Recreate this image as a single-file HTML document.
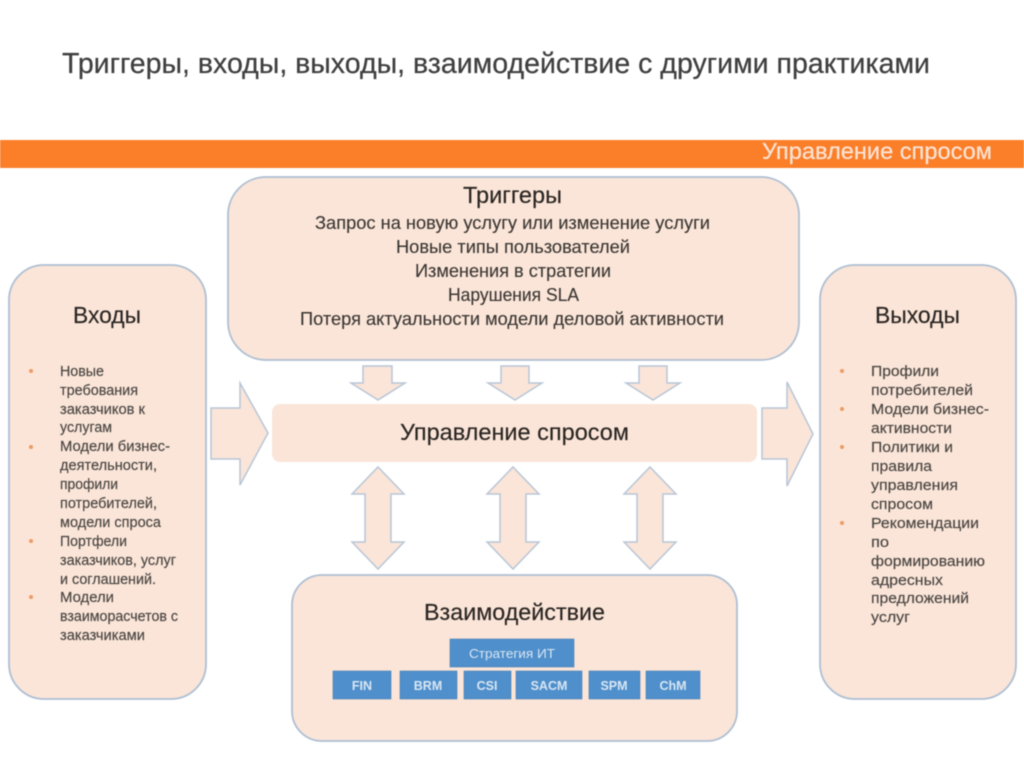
<!DOCTYPE html>
<html lang="ru"><head><meta charset="utf-8"><style>
html,body{margin:0;padding:0;background:#fff;width:1024px;height:767px;overflow:hidden}
svg{display:block;filter:blur(.45px)}
text{font-family:"Liberation Sans",sans-serif;fill:#333}
.b{fill:#fae5d8;stroke:#aebfd3;stroke-width:1.8}
.a{fill:#fae5d8;stroke:#b8c6d7;stroke-width:1.5}
.h{font-size:23px;fill:#2a2522;stroke:#2a2522;stroke-width:.15}
.t{font-size:18.5px;fill:#3b3633;stroke:#3b3633;stroke-width:.12}
.s{font-size:14.5px;fill:#4a4542;stroke:#4a4542;stroke-width:.15}
.w{fill:#d8e6f3;font-size:12.5px;text-anchor:middle;font-weight:bold}
.r{fill:#4f8fcb;stroke:#4a7fb5;stroke-width:.6}
.d{fill:#ee9a63}
</style></head><body>
<svg width="1024" height="767" viewBox="0 0 1024 767" xmlns="http://www.w3.org/2000/svg">
<rect width="1024" height="767" fill="#fff"/>
<text x="62" y="73" font-size="29" textLength="868" lengthAdjust="spacingAndGlyphs" style="fill:#3f3f3f;stroke:#3f3f3f;stroke-width:.25">Триггеры, входы, выходы, взаимодействие с другими практиками</text>
<rect x="0" y="140" width="1024" height="28" fill="#fb7e29"/>
<text x="762" y="159" font-size="23" textLength="230" lengthAdjust="spacingAndGlyphs" style="fill:#fbe3d3;stroke:#fbe3d3;stroke-width:.25">Управление спросом</text>

<rect class="b" x="228" y="177" width="571" height="183" rx="38"/>
<rect class="b" x="9" y="265" width="197" height="434" rx="35"/>
<rect class="b" x="820" y="265" width="196" height="434" rx="35"/>
<rect class="b" x="292" y="575" width="445" height="166" rx="30"/>
<rect x="272" y="404" width="485" height="58" rx="8" fill="#fae5d8"/>

<g class="a">
<path class="a" d="M363 366H392V383H405L378 400L351 383H363Z"/>
<path class="a" d="M501 366H529V383H542L515 400L488 383H501Z"/>
<path class="a" d="M639 366H667V383H680L653 400L626 383H639Z"/>
<path class="a" d="M211 408H240V383L268 433L240 485V459H211Z"/>
<path class="a" d="M762 408H787V382L813 434L787 486V459H762Z"/>
<path class="a" d="M378 467L404 494H391V542H404L378 569L352 542H365V494H352Z"/>
<path class="a" d="M513 467L539 494H526V542H539L513 569L487 542H500V494H487Z"/>
<path class="a" d="M650 467L676 494H663V542H676L650 569L624 542H637V494H624Z"/>
</g>

<text class="h" x="463" y="203" textLength="99" lengthAdjust="spacingAndGlyphs">Триггеры</text>
<text class="t" x="315" y="229" textLength="395" lengthAdjust="spacingAndGlyphs">Запрос на новую услугу или изменение услуги</text>
<text class="t" x="396" y="253" textLength="234" lengthAdjust="spacingAndGlyphs">Новые типы пользователей</text>
<text class="t" x="415" y="277" textLength="196" lengthAdjust="spacingAndGlyphs">Изменения в стратегии</text>
<text class="t" x="448" y="301" textLength="131" lengthAdjust="spacingAndGlyphs">Нарушения SLA</text>
<text class="t" x="300" y="325" textLength="424" lengthAdjust="spacingAndGlyphs">Потеря актуальности модели деловой активности</text>

<text class="h" x="73" y="323" textLength="68" lengthAdjust="spacingAndGlyphs">Входы</text>
<text class="h" x="875" y="323" textLength="85" lengthAdjust="spacingAndGlyphs">Выходы</text>
<text class="h" x="400" y="440" textLength="229" lengthAdjust="spacingAndGlyphs">Управление спросом</text>
<text class="h" x="424" y="620" textLength="181" lengthAdjust="spacingAndGlyphs">Взаимодействие</text>

<circle class="d" cx="31" cy="371" r="2"/>
<circle class="d" cx="31" cy="447" r="2"/>
<circle class="d" cx="31" cy="541" r="2"/>
<circle class="d" cx="31" cy="597" r="2"/>
<text class="s" x="60" y="376" textLength="44" lengthAdjust="spacingAndGlyphs">Новые</text>
<text class="s" x="60" y="395" textLength="78" lengthAdjust="spacingAndGlyphs">требования</text>
<text class="s" x="60" y="414" textLength="85" lengthAdjust="spacingAndGlyphs">заказчиков к</text>
<text class="s" x="60" y="432" textLength="52" lengthAdjust="spacingAndGlyphs">услугам</text>
<text class="s" x="60" y="451" textLength="110" lengthAdjust="spacingAndGlyphs">Модели бизнес-</text>
<text class="s" x="60" y="470" textLength="97" lengthAdjust="spacingAndGlyphs">деятельности,</text>
<text class="s" x="60" y="489" textLength="58" lengthAdjust="spacingAndGlyphs">профили</text>
<text class="s" x="60" y="508" textLength="97" lengthAdjust="spacingAndGlyphs">потребителей,</text>
<text class="s" x="60" y="527" textLength="101" lengthAdjust="spacingAndGlyphs">модели спроса</text>
<text class="s" x="60" y="546" textLength="67" lengthAdjust="spacingAndGlyphs">Портфели</text>
<text class="s" x="60" y="565" textLength="116" lengthAdjust="spacingAndGlyphs">заказчиков, услуг</text>
<text class="s" x="60" y="584" textLength="96" lengthAdjust="spacingAndGlyphs">и соглашений.</text>
<text class="s" x="60" y="602" textLength="54" lengthAdjust="spacingAndGlyphs">Модели</text>
<text class="s" x="60" y="621" textLength="118" lengthAdjust="spacingAndGlyphs">взаиморасчетов с</text>
<text class="s" x="60" y="640" textLength="85" lengthAdjust="spacingAndGlyphs">заказчиками</text>

<circle class="d" cx="842" cy="371" r="2"/>
<circle class="d" cx="842" cy="409" r="2"/>
<circle class="d" cx="842" cy="447" r="2"/>
<circle class="d" cx="842" cy="523" r="2"/>
<text class="s" x="871" y="376" textLength="68" lengthAdjust="spacingAndGlyphs">Профили</text>
<text class="s" x="871" y="395" textLength="102" lengthAdjust="spacingAndGlyphs">потребителей</text>
<text class="s" x="871" y="414" textLength="118" lengthAdjust="spacingAndGlyphs">Модели бизнес-</text>
<text class="s" x="871" y="433" textLength="81" lengthAdjust="spacingAndGlyphs">активности</text>
<text class="s" x="871" y="452" textLength="82" lengthAdjust="spacingAndGlyphs">Политики и</text>
<text class="s" x="871" y="471" textLength="61" lengthAdjust="spacingAndGlyphs">правила</text>
<text class="s" x="871" y="490" textLength="87" lengthAdjust="spacingAndGlyphs">управления</text>
<text class="s" x="871" y="509" textLength="62" lengthAdjust="spacingAndGlyphs">спросом</text>
<text class="s" x="871" y="528" textLength="108" lengthAdjust="spacingAndGlyphs">Рекомендации</text>
<text class="s" x="871" y="547" textLength="18" lengthAdjust="spacingAndGlyphs">по</text>
<text class="s" x="871" y="566" textLength="114" lengthAdjust="spacingAndGlyphs">формированию</text>
<text class="s" x="871" y="585" textLength="72" lengthAdjust="spacingAndGlyphs">адресных</text>
<text class="s" x="871" y="603" textLength="98" lengthAdjust="spacingAndGlyphs">предложений</text>
<text class="s" x="871" y="622" textLength="39" lengthAdjust="spacingAndGlyphs">услуг</text>

<rect class="r" x="450" y="639" width="124" height="28"/>
<rect class="r" x="333" y="671" width="58" height="28"/>
<rect class="r" x="400" y="671" width="57" height="28"/>
<rect class="r" x="464" y="671" width="47" height="28"/>
<rect class="r" x="516" y="671" width="66" height="28"/>
<rect class="r" x="589" y="671" width="51" height="28"/>
<rect class="r" x="646" y="671" width="54" height="28"/>
<text class="w" x="512" y="658" style="font-weight:normal" textLength="86" lengthAdjust="spacingAndGlyphs">Стратегия ИТ</text>
<text class="w" x="362" y="690">FIN</text>
<text class="w" x="428" y="690">BRM</text>
<text class="w" x="487" y="690">CSI</text>
<text class="w" x="549" y="690">SACM</text>
<text class="w" x="614" y="690">SPM</text>
<text class="w" x="673" y="690">ChM</text>
</svg>
</body></html>
